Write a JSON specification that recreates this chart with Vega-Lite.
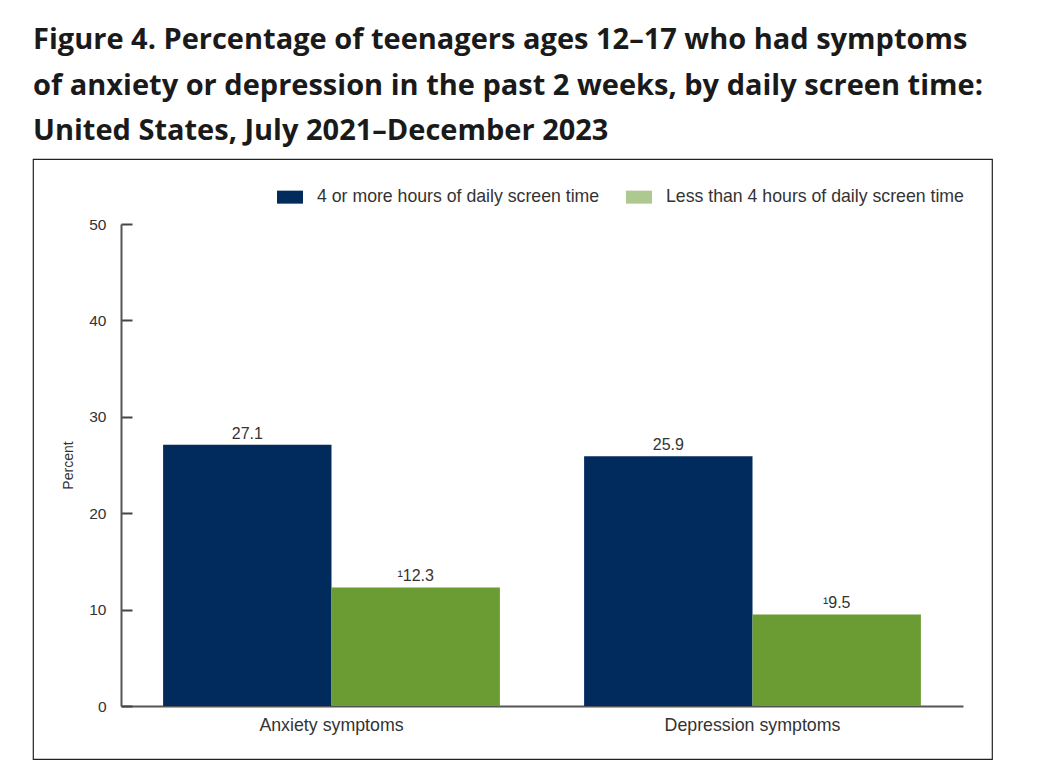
{
  "$schema": "https://vega.github.io/schema/vega-lite/v6.json",
  "autosize": {"type": "none"},
  "width": 959,
  "height": 600,
  "padding": {"left": 33, "top": 159, "right": 46, "bottom": 9},
  "background": "white",
  "title": {
    "text": [
      "Figure 4. Percentage of teenagers ages 12–17 who had symptoms",
      "of anxiety or depression in the past 2 weeks, by daily screen time:",
      "United States, July 2021–December 2023"
    ],
    "font": "Open Sans",
    "fontSize": 29,
    "fontWeight": "bold",
    "color": "#1a1a1a",
    "anchor": "start",
    "frame": "group",
    "lineHeight": 45.5,
    "offset": 13
  },
  "config": {
    "view": {"stroke": "#222222", "strokeWidth": 1.2},
    "font": "Liberation Sans"
  },
  "data": {
    "values": [
      {"measure": "Anxiety symptoms", "group": "4 or more hours of daily screen time", "value": 27.1, "label": "27.1"},
      {"measure": "Anxiety symptoms", "group": "Less than 4 hours of daily screen time", "value": 12.3, "label": "¹12.3"},
      {"measure": "Depression symptoms", "group": "4 or more hours of daily screen time", "value": 25.9, "label": "25.9"},
      {"measure": "Depression symptoms", "group": "Less than 4 hours of daily screen time", "value": 9.5, "label": "¹9.5"}
    ]
  },
  "encoding": {
    "x": {
      "field": "measure",
      "type": "nominal",
      "sort": ["Anxiety symptoms", "Depression symptoms"],
      "scale": {"range": [88, 930], "paddingInner": 0.2, "paddingOuter": 0.1},
      "axis": {
        "orient": "bottom",
        "offset": -53,
        "title": null,
        "labelAngle": 0,
        "ticks": false,
        "domainColor": "#555555",
        "domainWidth": 2,
        "labelFontSize": 17.8,
        "labelColor": "#333333",
        "labelPadding": 10
      }
    },
    "xOffset": {
      "field": "group",
      "type": "nominal",
      "sort": ["4 or more hours of daily screen time", "Less than 4 hours of daily screen time"],
      "scale": {"paddingInner": 0, "paddingOuter": 0}
    },
    "y": {
      "field": "value",
      "type": "quantitative",
      "scale": {"domain": [0, 50], "range": [547, 65], "nice": false, "zero": true},
      "axis": {
        "offset": -88,
        "values": [0, 10, 20, 30, 40, 50],
        "grid": false,
        "tickSize": -11,
        "tickWidth": 2,
        "tickColor": "#444444",
        "domainColor": "#555555",
        "domainWidth": 2,
        "labelFontSize": 15.5,
        "labelColor": "#333333",
        "labelPadding": 26,
        "title": "Percent",
        "titleFontSize": 14,
        "titleFontWeight": "normal",
        "titleColor": "#333333",
        "titlePadding": 13
      }
    }
  },
  "layer": [
    {
      "mark": {"type": "bar"},
      "encoding": {
        "color": {
          "field": "group",
          "type": "nominal",
          "scale": {
            "domain": ["4 or more hours of daily screen time", "Less than 4 hours of daily screen time"],
            "range": ["#002b5c", "#6b9c33"]
          },
          "legend": {
            "orient": "none",
            "legendX": 244,
            "legendY": 25,
            "direction": "horizontal",
            "title": null,
            "padding": 0,
            "symbolType": "M-1,-0.5H1V0.5H-1Z",
            "symbolSize": 676,
            "symbolStrokeWidth": 0,
            "labelFontSize": 17.7,
            "labelColor": "#333333",
            "labelOffset": 14,
            "labelLimit": 400,
            "columnPadding": 26,
            "encode": {
              "symbols": {
                "update": {
                  "opacity": [
                    {"test": "datum.value === 'Less than 4 hours of daily screen time'", "value": 0.55},
                    {"value": 1}
                  ]
                }
              }
            }
          }
        }
      }
    },
    {
      "mark": {"type": "text", "dy": -6, "baseline": "alphabetic", "fontSize": 16, "color": "#333333"},
      "encoding": {
        "text": {"field": "label"}
      }
    }
  ]
}
